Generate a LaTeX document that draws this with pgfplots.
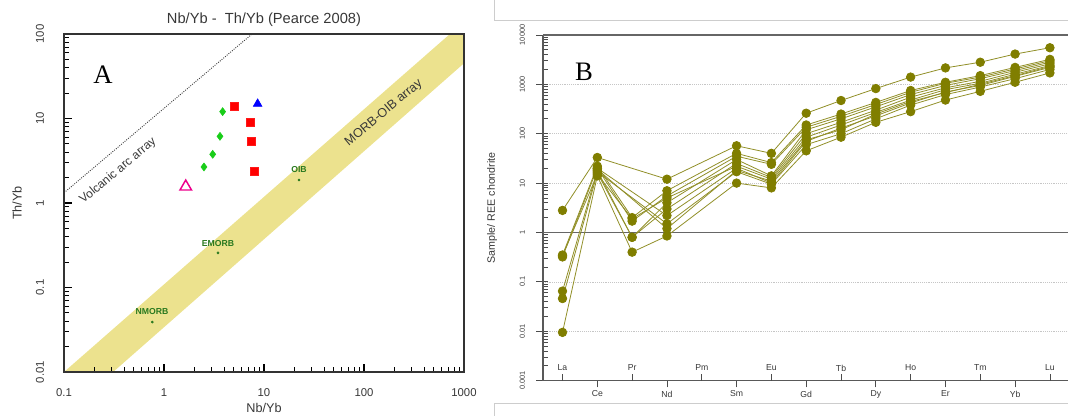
\documentclass[border=0pt]{standalone}
\usepackage{pgfplots}
\pgfplotsset{compat=1.18}
\usepackage{pgfplotstable}
\usepackage{fontspec}
\setmainfont{Liberation Sans}
\newfontfamily\seriffont{Liberation Serif}
\definecolor{band}{RGB}{236,226,142}
\definecolor{olivedot}{RGB}{128,126,0}
\definecolor{oliveline}{RGB}{145,143,40}
\definecolor{labgreen}{RGB}{40,120,30}
\definecolor{dgreen}{RGB}{25,205,25}
\definecolor{txt}{RGB}{55,55,55}
\definecolor{frame}{RGB}{205,205,205}

\pgfplotstableread{
x   s1    s2    s3    s4    s5    s6    s7     s8    s9    s10
1   2.8   0.35  0.32  0.065 0.046 0.34  0.0095 nan   nan   nan
2   33    22    20    18    16    15    14     20    17    19
3   nan   2.0   1.7   0.8   0.8   1.9   0.4    nan   nan   nan
4   12    7     5.5   4     3     5     0.85   2.2   1.5   1.2
6   57    40    35    30    25    22    10     20    17    18
7   40    26    24    14    13    12    8      10    9.5   11
8   260   150   135   120   100   85    45     70    60    75
9   470   250   225   200   170   150   85     130   100   120
10  820   430   390   350   300   270   170    230   200   250
11  1400  750   690   620   550   480   280    420   380   450
12  2150  1100  1050  950   850   780   480    700   620   680
13  2800  1500  1400  1300  1150  1050  720    950   880   1000
14  4100  2200  2050  1900  1750  1600  1100   1450  1300  1500
15  5500  3200  3000  2800  2600  2400  1700   2200  2000  2300
}\ree

\begin{document}
\begin{tikzpicture}
\path[use as bounding box] (0,0) rectangle (801pt,312pt);
% frame lines of right panel
\draw[frame, line width=0.6pt] (370.5pt,312pt) -- (370.5pt,297pt) -- (801pt,297pt);
\draw[frame, line width=0.6pt] (370.5pt,0pt) -- (370.5pt,9.75pt) -- (801pt,9.75pt);

%================ LEFT PANEL =================
\begin{axis}[
  at={(48pt,33pt)}, anchor=south west, scale only axis,
  width=300pt, height=253.5pt,
  xmode=log, ymode=log, xmin=0.1, xmax=1000, ymin=0.01, ymax=100,
  xtick={0.1,1,10,100,1000}, xticklabels={0.1,1,10,100,1000},
  ytick={0.01,0.1,1,10,100}, yticklabels={0.01,0.1,1,10,100},
  minor xtick={0.2,0.3,0.4,0.5,0.6,0.7,0.8,0.9,2,3,4,5,6,7,8,9,20,30,40,50,60,70,80,90,200,300,400,500,600,700,800,900},
  minor ytick={0.02,0.03,0.04,0.05,0.06,0.07,0.08,0.09,0.2,0.3,0.4,0.5,0.6,0.7,0.8,0.9,2,3,4,5,6,7,8,9,20,30,40,50,60,70,80,90},
  tick align=inside, xtick pos=bottom, ytick pos=left,
  major tick length=6pt, minor tick length=3.5pt,
  every tick/.style={black, line width=0.8pt},
  minor tick style={black, line width=0.7pt},
  major tick style={black, line width=0.8pt},
  axis line style={black!80, line width=0.8pt},
  axis on top,
  ticklabel style={font=\fontsize{8.5}{10}\selectfont, text=txt},
  xticklabel style={anchor=center, yshift=-15.75pt},
  yticklabel style={xshift=-18pt, rotate=90, anchor=center},
  xlabel={Nb/Yb}, ylabel={Th/Yb},
  label style={font=\fontsize{9.5}{11}\selectfont, text=txt},
  xlabel style={at={(axis description cs:0.5,0)}, anchor=center, yshift=-27pt},
  ylabel style={at={(axis description cs:-0.1175,0.5)}, anchor=center},
  title={Nb/Yb -\ \ Th/Yb (Pearce 2008)},
  title style={font=\fontsize{11}{13}\selectfont, text=txt, at={(axis description cs:0.5,1)}, anchor=center, yshift=4.5pt},
  /pgf/number format/assume math mode=true,
]
\addplot[fill=band, draw=none] coordinates {(0.1,0.01) (724,100) (1000,100) (1000,45) (0.31,0.01)} -- cycle;
\addplot[black!75, densely dotted, line width=0.7pt] coordinates {(0.1,1.32) (7.6,100)};
\node[rotate=40, font=\fontsize{9}{10}\selectfont, text=txt] at (axis cs:0.347,2.4) {Volcanic arc array};
\node[rotate=40, font=\fontsize{9.5}{10}\selectfont, text=txt] at (axis cs:158,11.6) {MORB-OIB array};
% reference compositions
\addplot[only marks, mark=*, mark size=0.8pt, labgreen] coordinates {(0.764,0.039) (3.47,0.257) (22.4,1.87)};
\node[font=\bfseries\fontsize{6.5}{7}\selectfont, text=labgreen] at (axis cs:0.76,0.0513) {NMORB};
\node[font=\bfseries\fontsize{6.5}{7}\selectfont, text=labgreen] at (axis cs:3.47,0.336) {EMORB};
\node[font=\bfseries\fontsize{6.5}{7}\selectfont, text=labgreen] at (axis cs:22.4,2.46) {OIB};
% samples
\addplot[only marks, mark=diamond*, mark size=3pt, draw=dgreen, fill=dgreen] coordinates {(3.86,12.05) (3.63,6.15) (3.07,3.77) (2.51,2.67)};
\addplot[only marks, mark=square*, mark size=3pt, draw=red!90!white, fill=red] coordinates {(5.01,13.9) (7.3,9.1) (7.41,5.32) (7.94,2.35)};
\addplot[only marks, mark=triangle*, mark size=3.8pt, draw=blue, fill=blue] coordinates {(8.64,14.9)};
\addplot[only marks, mark=triangle, mark size=5pt, draw=magenta, line width=1.1pt] coordinates {(1.65,1.56)};
\node[font=\seriffont\fontsize{20}{22}\selectfont] at (axis cs:0.245,32.7) {A};
\end{axis}

%================ RIGHT PANEL =================
\begin{axis}[
  at={(407.25pt,26.5pt)}, anchor=south west, scale only axis,
  width=393.75pt, height=259.3pt,
  ymode=log, ymin=0.001, ymax=10000, xmin=0.44, xmax=15.52,
  axis x line*=bottom, axis y line*=left,
  axis line style={-, black!65, line width=0.9pt},
  xtick={2,4,...,14}, xticklabels={Ce,Nd,Sm,Gd,Dy,Er,Yb},
  extra x ticks={1,3,...,15}, extra x tick labels={La,Pr,Pm,Eu,Tb,Ho,Tm,Lu},
  extra x tick style={tick align=inside, major tick length=5pt, xmajorgrids=false, xticklabel style={yshift=14.5pt}},
  ytick={0.001,0.01,0.1,1,10,100,1000,10000},
  yticklabels={0.001,0.01,0.1,1,10,100,1000,10000},
  tick align=outside, major tick length=5pt, minor tick length=-3.5pt,
  tick style={black!70, line width=0.6pt},
  ticklabel style={text=txt},
  xticklabel style={font=\fontsize{6.5}{7}\selectfont, anchor=center, yshift=-5pt},
  yticklabel style={font=\fontsize{5.5}{6}\selectfont, xshift=-10.5pt, rotate=90, anchor=center},
  ymajorgrids, major grid style={densely dotted, gray!45, line width=0.5pt},
  extra y ticks={1,10000}, extra y tick labels={},
  extra y tick style={major tick length=0pt, ymajorgrids=true, major grid style={solid, black!60, line width=0.9pt}},
  ylabel={Sample/ REE chondrite},
  ylabel style={font=\fontsize{8}{9}\selectfont, text=txt, at={(axis description cs:-0.097,0.5)}, anchor=center},
  unbounded coords=discard,
  clip=false,
  /pgf/number format/assume math mode=true,
  ree/.style={oliveline, line width=0.6pt, mark=*, mark size=3.2pt, mark options={draw=olivedot, fill=olivedot}},
]
\addplot[ree] table[x=x, y=s7] {\ree};
\addplot[ree] table[x=x, y=s9] {\ree};
\addplot[ree] table[x=x, y=s10] {\ree};
\addplot[ree] table[x=x, y=s8] {\ree};
\addplot[ree] table[x=x, y=s6] {\ree};
\addplot[ree] table[x=x, y=s5] {\ree};
\addplot[ree] table[x=x, y=s4] {\ree};
\addplot[ree] table[x=x, y=s3] {\ree};
\addplot[ree] table[x=x, y=s2] {\ree};
\addplot[ree] table[x=x, y=s1] {\ree};
\node[font=\seriffont\fontsize{20}{22}\selectfont] at (axis cs:1.62,1780) {B};
\end{axis}
\end{tikzpicture}
\end{document}
